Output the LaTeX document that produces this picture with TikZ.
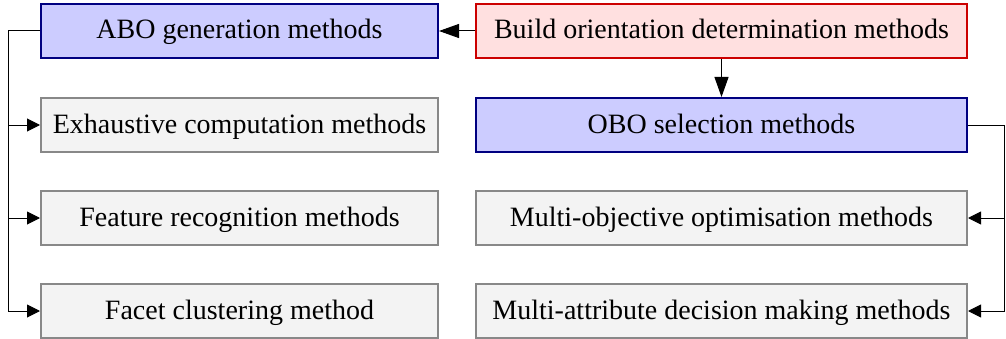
\documentclass[tikz,border=0pt]{standalone}
\usepackage{fontspec}
\setmainfont{Liberation Serif}
\usetikzlibrary{arrows.meta}
\definecolor{bluefill}{HTML}{CCCCFF}
\definecolor{blueline}{HTML}{000080}
\definecolor{redfill}{HTML}{FFE0E0}
\definecolor{redline}{HTML}{CC0000}
\definecolor{grayfill}{HTML}{F3F3F3}
\definecolor{grayline}{HTML}{888888}
\tikzset{
  box/.style={draw, line width=2pt, minimum height=54pt, inner sep=0pt, text height=20pt, text depth=4pt, font=\fontsize{28}{32}\selectfont},
  lbox/.style={box, minimum width=397pt},
  rbox/.style={box, minimum width=491pt},
  bluebox/.style={fill=bluefill, draw=blueline},
  redbox/.style={fill=redfill, draw=redline},
  graybox/.style={fill=grayfill, draw=grayline},
  conn/.style={line width=1pt, -{Triangle[length=13pt,width=13pt]}},
  bigconn/.style={line width=1pt, -{Triangle[length=20pt,width=14pt]}},
}
\begin{document}
\begin{tikzpicture}[x=1pt,y=1pt]
\useasboundingbox (0,0) rectangle (1006,338);
\node[lbox,bluebox] (abo) at (239.5,307) {ABO generation methods};
\node[rbox,redbox] (bod) at (721.5,307) {Build orientation determination methods};
\node[lbox,graybox] (exh) at (239.5,213) {Exhaustive computation methods};
\node[rbox,bluebox] (obo) at (721.5,213) {OBO selection methods};
\node[lbox,graybox] (feat) at (239.5,120) {Feature recognition methods};
\node[rbox,graybox] (moo) at (721.5,120) {Multi-objective optimisation methods};
\node[lbox,graybox] (facet) at (239.5,27) {Facet clustering method};
\node[rbox,graybox] (mad) at (721.5,27) {Multi-attribute decision making methods};
\coordinate (lt) at (8,307);
\coordinate (lb) at (8,27);
\coordinate (l1) at (8,213);
\coordinate (l2) at (8,120);
\coordinate (rt) at (1004,213);
\coordinate (r1) at (1004,120);
\coordinate (rb) at (1004,27);
\draw[bigconn] (bod.west) -- (abo.east);
\draw[bigconn] (bod.south) -- (obo.north);
\draw[conn] (abo.west) -- (lt) -- (lb) -- (facet.west);
\draw[conn] (l1) -- (exh.west);
\draw[conn] (l2) -- (feat.west);
\draw[conn] (obo.east) -- (rt) -- (rb) -- (mad.east);
\draw[conn] (r1) -- (moo.east);
\end{tikzpicture}
\end{document}
